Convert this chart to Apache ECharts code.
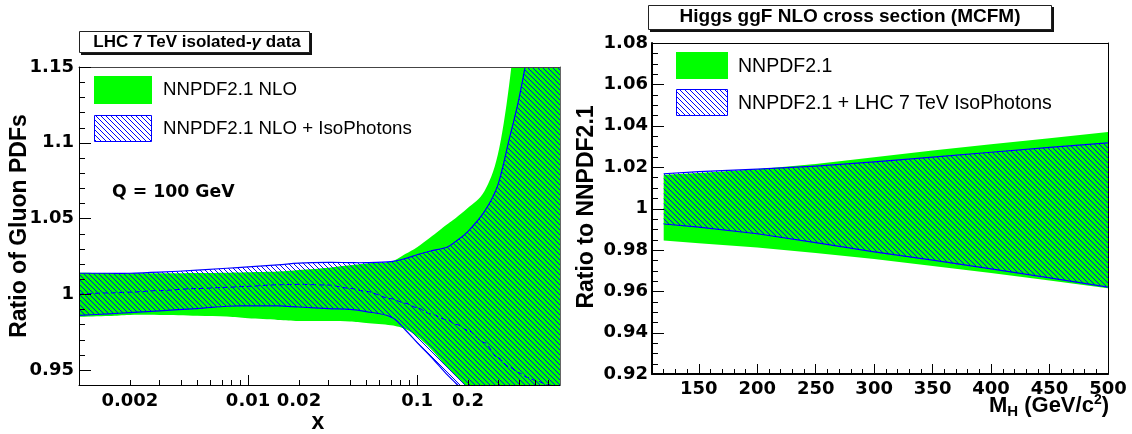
<!DOCTYPE html>
<html><head><meta charset="utf-8">
<script src="https://cdn.jsdelivr.net/npm/echarts@6/dist/echarts.min.js"></script>
<style>html,body{margin:0;padding:0;background:#fff}#c{width:1132px;height:434px}</style>
</head><body><div id="c"></div>
<script>
// ---------- Left panel: ratio of gluon PDFs vs x (Q = 100 GeV) ----------
const gluonX        = [0.001, 0.0015, 0.002, 0.003, 0.005, 0.0075, 0.01, 0.015, 0.02, 0.03, 0.04, 0.05, 0.07, 0.085, 0.1, 0.12, 0.15, 0.17, 0.2, 0.25, 0.3, 0.35, 0.4, 0.45, 0.5, 0.6, 0.7];
const nnpdfHigh     = [1.0142, 1.014, 1.0138, 1.0138, 1.014, 1.0142, 1.0145, 1.015, 1.016, 1.0175, 1.019, 1.0202, 1.0215, 1.0265, 1.031, 1.0375, 1.046, 1.0505, 1.057, 1.068, 1.092, 1.138, 1.20, 1.27, 1.34, 1.46, 1.58];
const nnpdfLow      = [0.985, 0.9855, 0.9862, 0.9863, 0.9858, 0.9852, 0.984, 0.983, 0.9823, 0.9822, 0.982, 0.981, 0.9795, 0.977, 0.972, 0.964, 0.952, 0.946, 0.937, 0.915, 0.895, 0.875, 0.855, 0.835, 0.815, 0.785, 0.755];
const isoHigh       = [1.0138, 1.0138, 1.0138, 1.0145, 1.0158, 1.0171, 1.018, 1.0193, 1.0205, 1.021, 1.0208, 1.0208, 1.0215, 1.0235, 1.026, 1.0285, 1.031, 1.035, 1.0415, 1.0545, 1.072, 1.102, 1.129, 1.16, 1.2, 1.28, 1.36];
const isoLow        = [0.986, 0.987, 0.9878, 0.989, 0.9905, 0.992, 0.9922, 0.9922, 0.9915, 0.9905, 0.99, 0.9885, 0.985, 0.9765, 0.968, 0.959, 0.947, 0.941, 0.932, 0.91, 0.89, 0.87, 0.85, 0.83, 0.81, 0.78, 0.75];
const isoCentral    = [1.0, 1.0008, 1.0013, 1.0024, 1.0037, 1.0045, 1.0052, 1.0062, 1.0065, 1.006, 1.0038, 1.0018, 0.997, 0.994, 0.991, 0.987, 0.983, 0.98, 0.976, 0.968, 0.958, 0.952, 0.948, 0.945, 0.943, 0.94, 0.938];
const gluonYTicks   = [0.95, 1, 1.05, 1.1, 1.15];
const gluonXLabels  = ['0.002', '0.01', '0.02', '0.1', '0.2'];
const gluonXMajor   = [0.01, 0.1];

// ---------- Right panel: Higgs ggF cross section ratio ----------
const higgsMass      = [120, 150, 200, 250, 300, 350, 400, 450, 500];
const higgsNnpdfHigh = [1.0163, 1.0172, 1.0190, 1.0215, 1.0248, 1.0280, 1.0310, 1.0340, 1.0370];
const higgsNnpdfLow  = [0.9845, 0.9832, 0.9812, 0.9785, 0.9756, 0.9722, 0.9688, 0.9652, 0.9615];
const higgsIsoHigh   = [1.0168, 1.0178, 1.0190, 1.0205, 1.0225, 1.0248, 1.0272, 1.0295, 1.0317];
const higgsIsoLow    = [0.9925, 0.9910, 0.9878, 0.9835, 0.9790, 0.9750, 0.9708, 0.9665, 0.9620];
const higgsXTicks    = [150, 200, 250, 300, 350, 400, 450, 500];
const higgsYTicks    = [0.92, 0.94, 0.96, 0.98, 1, 1.02, 1.04, 1.06, 1.08];

const GREEN = '#00ff00', BLUE = '#0000ff';
const lg = v => Math.log10(v);

function hatchCanvas() {
  const n = 5, c = document.createElement('canvas');
  c.width = n; c.height = n;
  const g = c.getContext('2d');
  g.fillStyle = BLUE;
  for (let i = 0; i < n; i++) g.fillRect(i, i, 1, 1);
  return c;
}
const hatch = { image: hatchCanvas(), repeat: 'repeat' };

// tick position lists (axis furniture)
const gluonXMinor = [];
[0.001, 0.01, 0.1].forEach(d => { for (let k = 2; k <= 9; k++) { const v = k * d; if (v <= 0.7) gluonXMinor.push(v); } });
const gluonYMinor = [];
for (let k = 94; k <= 115; k++) gluonYMinor.push(k / 100);
const higgsXMinor = [];
for (let m = 110; m <= 500; m += 10) higgsXMinor.push(m);
const higgsYMinor = [];
for (let k = 184; k <= 216; k++) higgsYMinor.push(k / 200);

const tickFont = { fontFamily: 'DejaVu Sans', fontWeight: 'bold', fontSize: 18, color: '#000' };

// Catmull-Rom spline through pixel points -> path commands
function splinePath(pts, smooth, start) {
  let d = (start ? 'M' : 'L') + pts[0][0] + ' ' + pts[0][1];
  for (let i = 0; i < pts.length - 1; i++) {
    const p0 = pts[Math.max(0, i - 1)], p1 = pts[i], p2 = pts[i + 1], p3 = pts[Math.min(pts.length - 1, i + 2)];
    if (!smooth) { d += ' L' + p2[0] + ' ' + p2[1]; continue; }
    const c1x = p1[0] + (p2[0] - p0[0]) / 6, c1y = p1[1] + (p2[1] - p0[1]) / 6;
    const c2x = p2[0] - (p3[0] - p1[0]) / 6, c2y = p2[1] - (p3[1] - p1[1]) / 6;
    d += ' C' + c1x + ' ' + c1y + ' ' + c2x + ' ' + c2y + ' ' + p2[0] + ' ' + p2[1];
  }
  return d;
}

function bandSeries(xi, yi, xs, lo, hi, fill, edge, tf, smooth) {
  return {
    type: 'custom', xAxisIndex: xi, yAxisIndex: yi, clip: true, silent: true, z: 2,
    data: xs.map((x, i) => [tf(x), lo[i], hi[i]]),
    encode: { x: 0, y: [1, 2] },
    renderItem: function (params, api) {
      if (params.dataIndex !== 0) return null;
      const up = xs.map((x, i) => api.coord([tf(x), hi[i]]));
      const dn = xs.map((x, i) => api.coord([tf(x), lo[i]]));
      const dnRev = dn.slice().reverse();
      const children = [{
        type: 'path',
        shape: { pathData: splinePath(up, smooth, true) + ' ' + splinePath(dnRev, smooth, false) + ' Z' },
        style: { fill: fill, stroke: null }
      }];
      if (edge) {
        children.push({ type: 'path', shape: { pathData: splinePath(up, smooth, true) }, style: { fill: null, stroke: edge, lineWidth: 1.2 } });
        children.push({ type: 'path', shape: { pathData: splinePath(dn, smooth, true) }, style: { fill: null, stroke: edge, lineWidth: 1.2 } });
      }
      return { type: 'group', children: children };
    }
  };
}

const LX0 = -3, LX1 = lg(0.7);

const series = [
  bandSeries(0, 0, gluonX, nnpdfLow, nnpdfHigh, GREEN, null, lg, true),
  bandSeries(0, 0, gluonX, isoLow, isoHigh, hatch, BLUE, lg, true),
  { type: 'line', xAxisIndex: 0, yAxisIndex: 0, symbol: 'none', smooth: 0.3, smoothMonotone: 'x', z: 3,
    data: gluonX.map((x, i) => [lg(x), isoCentral[i]]), lineStyle: { color: BLUE, width: 1, type: [5, 3] }, silent: true },
  bandSeries(1, 1, higgsMass, higgsNnpdfLow, higgsNnpdfHigh, GREEN, null, v => v, false),
  bandSeries(1, 1, higgsMass, higgsIsoLow, higgsIsoHigh, hatch, BLUE, v => v, false)
];

// axis helpers
function lineLabelAxis(gridIndex, position, min, max, lineWidth, labels, formatter, margin) {
  return { type: 'value', gridIndex, position, min, max, z: 5,
    axisLine: { show: true, onZero: false, lineStyle: { color: '#000', width: lineWidth } },
    axisTick: { show: false }, splitLine: { show: false },
    axisLabel: Object.assign({ show: true, customValues: labels, margin: margin, formatter: formatter }, tickFont) };
}
function tickAxis(gridIndex, position, min, max, values, length) {
  return { type: 'value', gridIndex, position, min, max, z: 6,
    axisLine: { show: false }, axisLabel: { show: false }, splitLine: { show: false },
    axisTick: { show: true, inside: true, length: length, customValues: values, lineStyle: { color: '#000', width: 1 } } };
}
function borderAxis(gridIndex, position, color) {
  return { type: 'value', gridIndex, position, min: 0, max: 1, z: 5,
    axisLine: { show: true, onZero: false, lineStyle: { color: color, width: 1 } },
    axisLabel: { show: false }, axisTick: { show: false }, splitLine: { show: false } };
}

const staticGraphic = [
  // title boxes
  { type: 'rect', shape: { x: 81, y: 33, width: 231, height: 22 }, style: { fill: '#111' }, z: 100 },
  { type: 'rect', shape: { x: 79.5, y: 31.5, width: 230, height: 21 }, style: { fill: '#fff', stroke: '#222', lineWidth: 1 }, z: 101 },
  { type: 'text', x: 197, y: 42, z: 102,
    style: { text: 'LHC 7 TeV isolated-{i|γ} data', textAlign: 'center', textVerticalAlign: 'middle', align: 'center', verticalAlign: 'middle',
      fontFamily: 'Liberation Sans', fontWeight: 'bold', fontSize: 17, fill: '#000',
      rich: { i: { fontFamily: 'Liberation Sans', fontStyle: 'italic', fontWeight: 'bold', fontSize: 17, fill: '#000' } } } },
  { type: 'rect', shape: { x: 650, y: 7, width: 404, height: 25 }, style: { fill: '#111' }, z: 100 },
  { type: 'rect', shape: { x: 648.5, y: 5.5, width: 403, height: 24 }, style: { fill: '#fff', stroke: '#222', lineWidth: 1 }, z: 101 },
  { type: 'text', x: 850, y: 17, z: 102,
    style: { text: 'Higgs ggF NLO cross section (MCFM)', textAlign: 'center', textVerticalAlign: 'middle', align: 'center', verticalAlign: 'middle',
      fontFamily: 'Liberation Sans', fontWeight: 'bold', fontSize: 19, fill: '#000' } },
  // left legend
  { type: 'rect', shape: { x: 94, y: 76, width: 58, height: 28 }, style: { fill: GREEN }, z: 100 },
  { type: 'rect', shape: { x: 94.5, y: 115.5, width: 57, height: 26 }, style: { fill: hatch, stroke: BLUE, lineWidth: 1 }, z: 100 },
  { type: 'text', x: 163, y: 90, z: 100, style: { text: 'NNPDF2.1 NLO', verticalAlign: 'middle', textVerticalAlign: 'middle', fontFamily: 'Liberation Sans', fontSize: 18.7, fill: '#000' } },
  { type: 'text', x: 163, y: 129, z: 100, style: { text: 'NNPDF2.1 NLO + IsoPhotons', verticalAlign: 'middle', textVerticalAlign: 'middle', fontFamily: 'Liberation Sans', fontSize: 18.7, fill: '#000' } },
  { type: 'text', x: 112, y: 193, z: 100, style: { text: 'Q = 100 GeV', verticalAlign: 'middle', textVerticalAlign: 'middle', fontFamily: 'DejaVu Sans', fontWeight: 'bold', fontSize: 17.3, fill: '#000' } },
  // right legend
  { type: 'rect', shape: { x: 676, y: 52, width: 52, height: 27 }, style: { fill: GREEN }, z: 100 },
  { type: 'rect', shape: { x: 676.5, y: 89.5, width: 51, height: 26 }, style: { fill: hatch, stroke: BLUE, lineWidth: 1 }, z: 100 },
  { type: 'text', x: 738, y: 67, z: 100, style: { text: 'NNPDF2.1', verticalAlign: 'middle', textVerticalAlign: 'middle', fontFamily: 'Liberation Sans', fontSize: 19.5, fill: '#000' } },
  { type: 'text', x: 738, y: 104, z: 100, style: { text: 'NNPDF2.1 + LHC 7 TeV IsoPhotons', verticalAlign: 'middle', textVerticalAlign: 'middle', fontFamily: 'Liberation Sans', fontSize: 19.5, fill: '#000' } },
  // axis titles
  { type: 'text', x: 20, y: 226, rotation: Math.PI / 2, z: 100,
    style: { text: 'Ratio of Gluon PDFs', align: 'center', verticalAlign: 'middle', textAlign: 'center', textVerticalAlign: 'middle', fontFamily: 'Liberation Sans', fontWeight: 'bold', fontSize: 23, fill: '#000' } },
  { type: 'text', x: 587, y: 207, rotation: Math.PI / 2, z: 100,
    style: { text: 'Ratio to NNPDF2.1', align: 'center', verticalAlign: 'middle', textAlign: 'center', textVerticalAlign: 'middle', fontFamily: 'Liberation Sans', fontWeight: 'bold', fontSize: 23, fill: '#000' } },
  { type: 'text', x: 318, y: 423, z: 100,
    style: { text: 'x', align: 'center', verticalAlign: 'middle', textAlign: 'center', textVerticalAlign: 'middle', fontFamily: 'Liberation Sans', fontWeight: 'bold', fontSize: 23, fill: '#000' } },
  { type: 'text', x: 1109, y: 406, z: 100,
    style: { text: '{m|M}{s|H}{m| (GeV/c}{p|2}{m|)}', align: 'right', verticalAlign: 'middle', textAlign: 'right', textVerticalAlign: 'middle',
      fontFamily: 'Liberation Sans', fontWeight: 'bold', fontSize: 22, fill: '#000',
      rich: {
        m: { fontFamily: 'Liberation Sans', fontWeight: 'bold', fontSize: 22, fill: '#000', lineHeight: 26 },
        s: { fontFamily: 'Liberation Sans', fontWeight: 'bold', fontSize: 15, fill: '#000', lineHeight: 14, verticalAlign: 'bottom' },
        p: { fontFamily: 'Liberation Sans', fontWeight: 'bold', fontSize: 14, fill: '#000', lineHeight: 13, verticalAlign: 'top' }
      } } }
];

const option = {
  animation: false,
  grid: [
    { left: 79, top: 67, width: 481, height: 318, show: false },
    { left: 652, top: 43, width: 456, height: 331, show: false }
  ],
  xAxis: [
    lineLabelAxis(0, 'bottom', LX0, LX1, 1, gluonXLabels.map(s => lg(parseFloat(s))), v => String(parseFloat(Math.pow(10, v).toPrecision(6))), 7),
    lineLabelAxis(1, 'bottom', 110, 500, 2, higgsXTicks, v => String(v), 6),
    tickAxis(0, 'bottom', LX0, LX1, gluonXMajor.map(lg), 10),
    tickAxis(0, 'bottom', LX0, LX1, gluonXMinor.map(lg), 5),
    tickAxis(1, 'bottom', 110, 500, higgsXTicks, 10),
    tickAxis(1, 'bottom', 110, 500, higgsXMinor, 5),
    borderAxis(0, 'top', '#444'),
    borderAxis(1, 'top', '#000')
  ],
  yAxis: [
    lineLabelAxis(0, 'left', 0.94, 1.15, 1, gluonYTicks, v => String(v), 5),
    lineLabelAxis(1, 'left', 0.92, 1.08, 2, higgsYTicks, v => String(parseFloat(v.toFixed(3))), 4),
    borderAxis(0, 'right', '#666'),
    borderAxis(1, 'right', '#000')
  ],
  series: series,
  graphic: staticGraphic
};

const chart = echarts.init(document.getElementById('c'), null, { renderer: 'canvas' });
chart.setOption(option);

// y-axis ticks: positions obtained from the y scales via convertToPixel, drawn inward from the frame
const yTickMarks = [];
function addYTicks(xAxisIndex, yAxisIndex, xMin, values, length) {
  values.forEach(v => {
    const p = chart.convertToPixel({ xAxisIndex: xAxisIndex, yAxisIndex: yAxisIndex }, [xMin, v]);
    const y = Math.round(p[1]) + 0.5;
    yTickMarks.push({ type: 'line', z: 120, silent: true,
      shape: { x1: p[0], y1: y, x2: p[0] + length, y2: y }, style: { stroke: '#000', lineWidth: 1 } });
  });
}
addYTicks(0, 0, LX0, gluonYTicks, 12);
addYTicks(0, 0, LX0, gluonYMinor, 6);
addYTicks(1, 1, 110, higgsYTicks, 12);
addYTicks(1, 1, 110, higgsYMinor, 6);
chart.setOption({ graphic: staticGraphic.concat(yTickMarks) });
</script>
</body></html>
